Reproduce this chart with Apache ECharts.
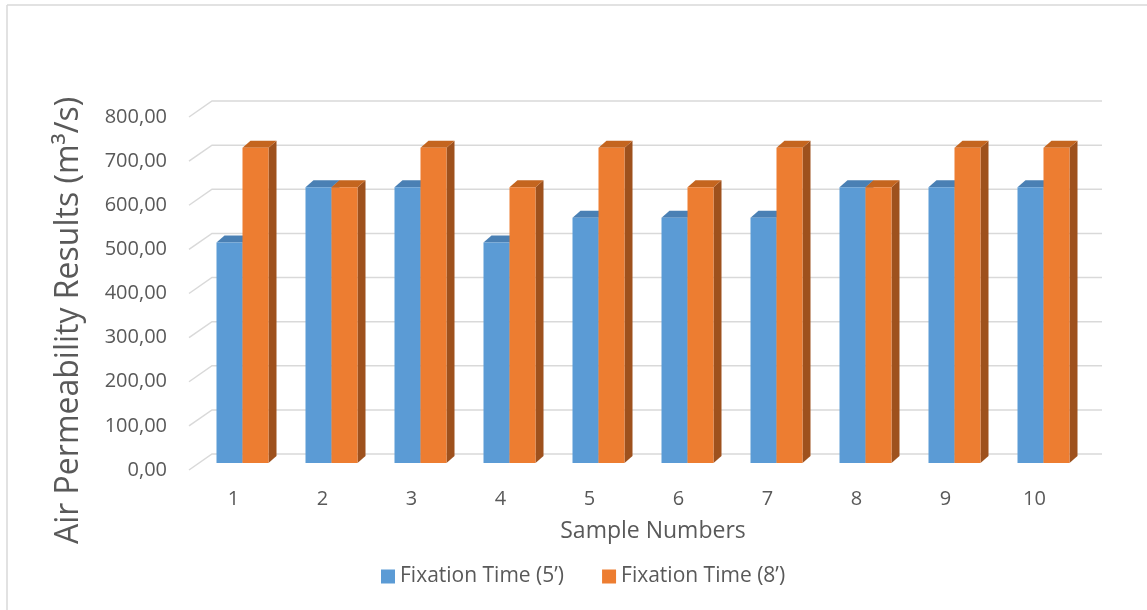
<!DOCTYPE html>
<html><head><meta charset="utf-8">
<script src="https://cdn.jsdelivr.net/npm/echarts@6/dist/echarts.min.js"></script>
<style>html,body{margin:0;padding:0;background:#fff}#c{width:1147px;height:610px}</style>
</head><body><div id="c"></div>
<script>
const categories = ['1','2','3','4','5','6','7','8','9','10'];
const fixation5 = [500, 625, 625, 500, 555.56, 555.56, 555.56, 625, 625, 625];
const fixation8 = [714.29, 625, 714.29, 625, 714.29, 625, 714.29, 625, 714.29, 714.29];
const yTicks = [0, 100, 200, 300, 400, 500, 600, 700, 800];
const seriesNames = ['Fixation Time (5’)', 'Fixation Time (8’)'];

const FONT = '"Open Sans", "Noto Sans", sans-serif';
const TXT = '#595959';
const BAR_W = 26, PLANE_DX = 9, PLANE_DY = -7, DEPTH_DX = 8, DEPTH_DY = -7, WALL_DX = 23, WALL_DY = -16;

function boxRenderer(slot, front, top, side) {
  return function (params, api) {
    const idx = api.value(0), v = api.value(1);
    const base = api.coord([idx, 0]);
    const peak = api.coord([idx, v]);
    const x0 = base[0] + PLANE_DX + (slot === 0 ? -BAR_W : 0);
    const x1 = x0 + BAR_W;
    const yb = base[1] + PLANE_DY, yt = peak[1] + PLANE_DY;
    return {type: 'group', children: [
      {type: 'polygon', shape: {points: [[x1, yt], [x1 + DEPTH_DX, yt + DEPTH_DY], [x1 + DEPTH_DX, yb + DEPTH_DY], [x1, yb]]}, style: {fill: side}},
      {type: 'polygon', shape: {points: [[x0, yt], [x1, yt], [x1 + DEPTH_DX, yt + DEPTH_DY], [x0 + DEPTH_DX, yt + DEPTH_DY]]}, style: {fill: top}},
      {type: 'rect', shape: {x: x0, y: yt, width: BAR_W, height: yb - yt}, style: {fill: front}}
    ]};
  };
}

const chart = echarts.init(document.getElementById('c'), null, {renderer: 'canvas'});
chart.setOption({
  backgroundColor: '#ffffff',
  animation: false,
  textStyle: {fontFamily: FONT},
  graphic: [
    {type: 'line', shape: {x1: 7, y1: 5, x2: 7, y2: 610}, style: {stroke: '#D9D9D9', lineWidth: 1.5}},
    {type: 'line', shape: {x1: 7, y1: 5, x2: 1147, y2: 5}, style: {stroke: '#D9D9D9', lineWidth: 1.5}}
  ],
  grid: {left: 189, right: 68, top: 117, bottom: 140},
  legend: {
    data: seriesNames,
    left: 376, top: 561,
    icon: 'rect', itemWidth: 14, itemHeight: 14, itemGap: 38,
    textStyle: {fontFamily: FONT, fontSize: 21, color: TXT}
  },
  xAxis: {
    type: 'category', data: categories,
    axisLine: {show: false}, axisTick: {show: false}, splitLine: {show: false},
    axisLabel: {fontFamily: FONT, fontSize: 20, color: TXT, margin: 19},
    name: 'Sample Numbers', nameLocation: 'middle', nameGap: 50,
    nameTextStyle: {fontFamily: FONT, fontSize: 23, color: TXT, padding: [0, 0, 0, 38]}
  },
  yAxis: {
    type: 'value', min: 0, max: 800, interval: 100,
    axisLine: {show: false}, axisTick: {show: false}, splitLine: {show: false},
    axisLabel: {fontFamily: FONT, fontSize: 20, color: TXT, margin: 22,
      formatter: v => v.toFixed(2).replace('.', ',')},
    name: 'Air Permeability Results (m³/s)', nameLocation: 'middle', nameGap: 104,
    nameTextStyle: {fontFamily: FONT, fontSize: 32, color: TXT, padding: [0, 54, 0, 0]}
  },
  series: [
    {
      type: 'custom', name: 'walls', z: 1, silent: true,
      data: yTicks.map(v => [0, v]), encode: {x: 0, y: 1},
      renderItem: function (params, api) {
        const p = api.coord([0, api.value(1)]);
        const cs = params.coordSys;
        const xl = cs.x, xr = cs.x + cs.width;
        return {type: 'polyline', shape: {points: [[xl, p[1]], [xl + WALL_DX, p[1] + WALL_DY], [xr + WALL_DX, p[1] + WALL_DY]]},
          style: {stroke: '#D9D9D9', lineWidth: 1.5, fill: null}};
      }
    },
    {
      type: 'custom', name: seriesNames[0], z: 2,
      itemStyle: {color: '#5B9BD5'},
      data: fixation5.map((v, i) => [i, v]), encode: {x: 0, y: 1},
      renderItem: boxRenderer(0, '#5B9BD5', '#4A80B4', '#3F6E9C')
    },
    {
      type: 'custom', name: seriesNames[1], z: 3,
      itemStyle: {color: '#ED7D31'},
      data: fixation8.map((v, i) => [i, v]), encode: {x: 0, y: 1},
      renderItem: boxRenderer(1, '#ED7D31', '#C4651F', '#9E511D')
    }
  ]
});
</script></body></html>
